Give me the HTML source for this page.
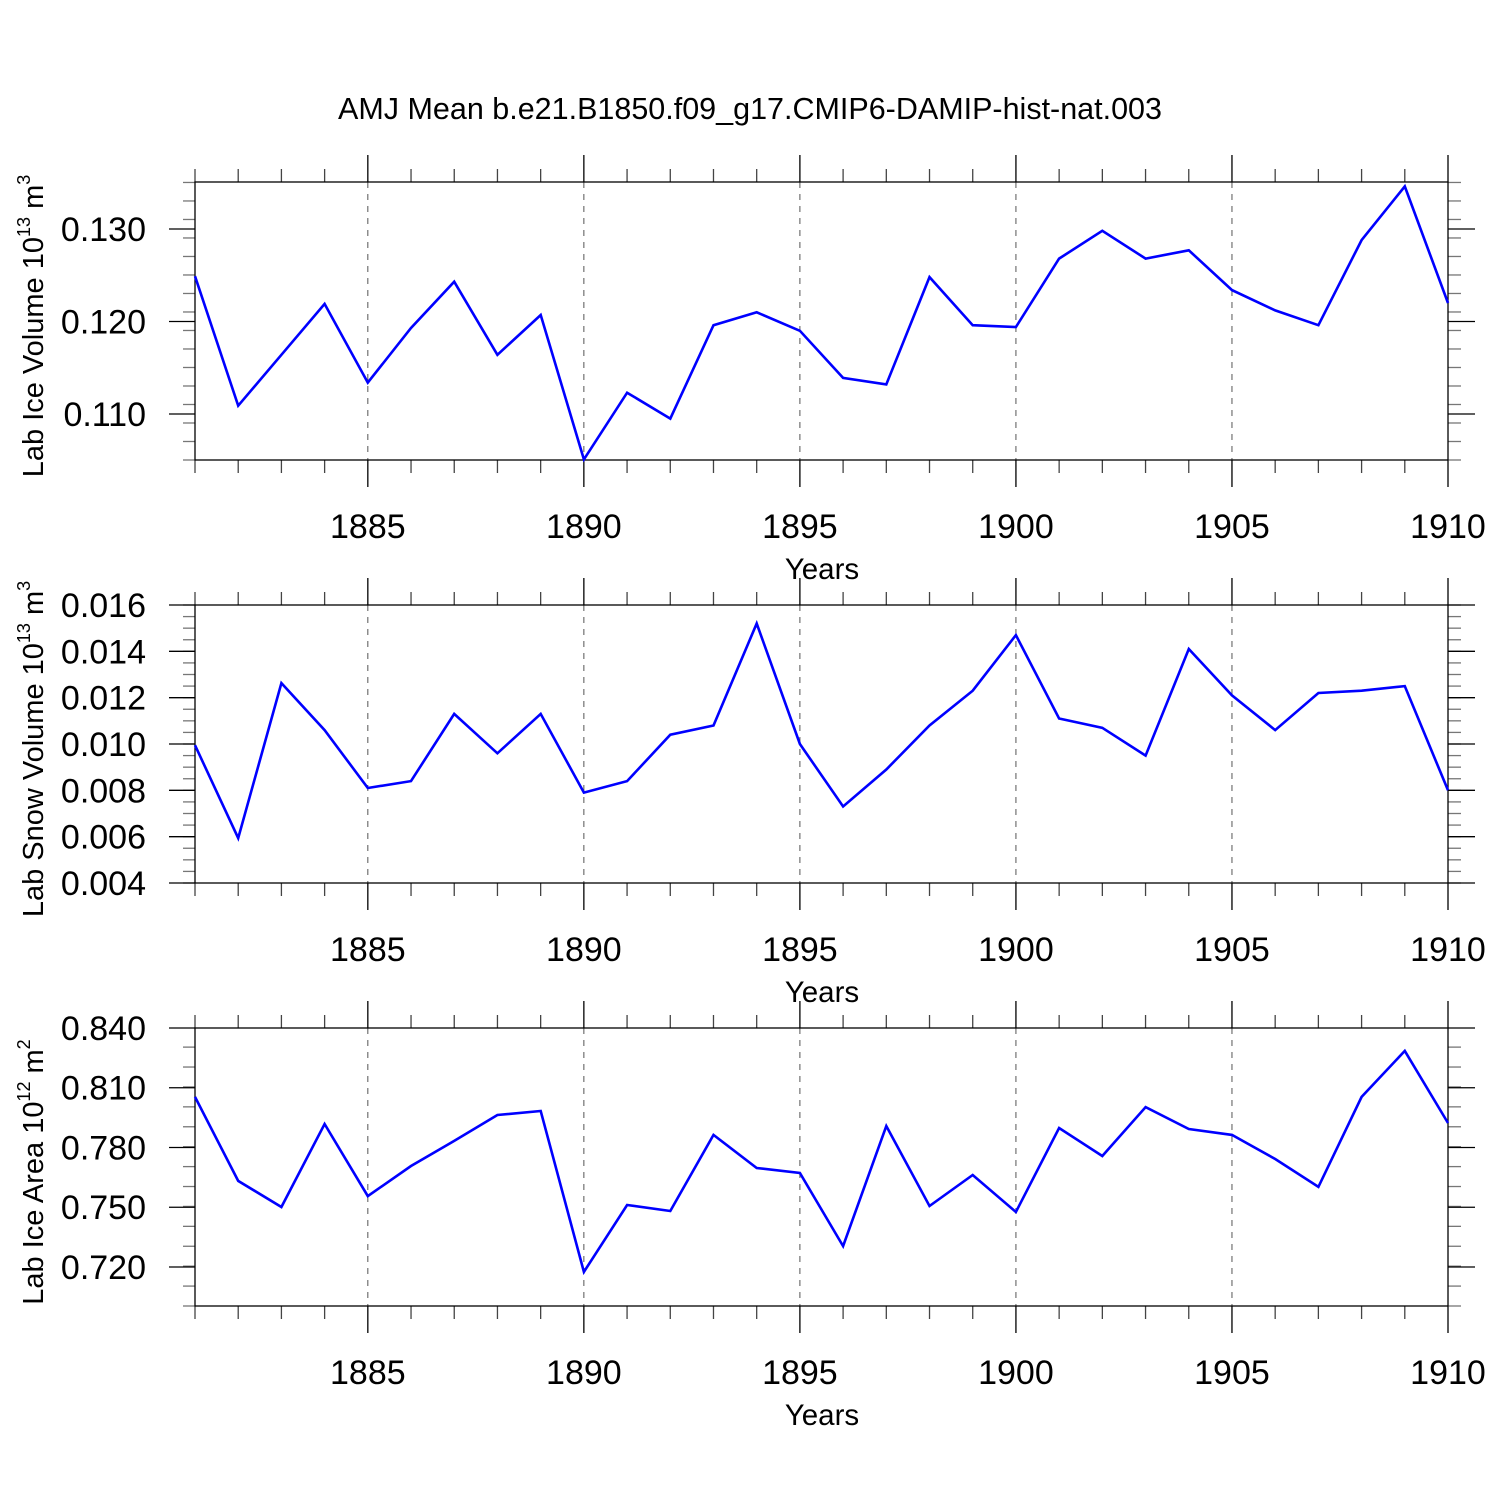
<!DOCTYPE html>
<html><head><meta charset="utf-8"><style>
body{margin:0;background:#fff}
svg{display:block}
text{font-family:"Liberation Sans",Arial,sans-serif;fill:#000}
</style></head><body>
<svg id="chart" width="1500" height="1500" viewBox="0 0 1500 1500" xmlns="http://www.w3.org/2000/svg">
<rect width="1500" height="1500" fill="#fff"/>
<text x="750" y="119" font-size="30.5" text-anchor="middle">AMJ Mean b.e21.B1850.f09_g17.CMIP6-DAMIP-hist-nat.003</text>
</svg>
<script>
const years = [];
for (let y = 1881; y <= 1910; y++) years.push(y);
const iceVolume = [0.1249,0.1109,0.1164,0.1219,0.1134,0.1193,0.1243,0.1164,0.1207,0.1051,0.1123,0.1095,0.1196,0.1210,0.1190,0.1139,0.1132,0.1248,0.1196,0.1194,0.1268,0.1298,0.1268,0.1277,0.1234,0.1212,0.1196,0.1288,0.1346,0.1220];
const snowVolume = [0.00995,0.00594,0.01263,0.0106,0.0081,0.0084,0.0113,0.0096,0.0113,0.0079,0.0084,0.0104,0.0108,0.0152,0.0100,0.0073,0.0089,0.0108,0.0123,0.0147,0.0111,0.0107,0.0095,0.0141,0.0121,0.0106,0.0122,0.0123,0.0125,0.0080];
const iceArea = [0.8054,0.7632,0.7501,0.7918,0.7556,0.7707,0.7833,0.7963,0.7983,0.7175,0.7511,0.7481,0.7863,0.7697,0.7672,0.7305,0.7908,0.7506,0.7662,0.7476,0.7898,0.7757,0.8003,0.7893,0.7863,0.7742,0.7602,0.8054,0.8285,0.7923];
const xTickLabels = [1885,1890,1895,1900,1905,1910];
const iceVolTicks = ["0.110","0.120","0.130"];
const snowVolTicks = ["0.004","0.006","0.008","0.010","0.012","0.014","0.016"];
const iceAreaTicks = ["0.720","0.750","0.780","0.810","0.840"];

const svg = document.getElementById('chart');
const NS = 'http://www.w3.org/2000/svg';
function mk(tag, attrs, parent){const e=document.createElementNS(NS,tag);for(const k in attrs)e.setAttribute(k,attrs[k]);(parent||svg).appendChild(e);return e;}

const X0=195, X1=1448;
const xMin=1881, xMax=1910;
function xs(v){return X0+(v-xMin)/(xMax-xMin)*(X1-X0);}

function panel(opt){
  const g=mk('g',{});
  
  
  const top=opt.top, bot=opt.top+278;
  const ys=v=>bot-(v-opt.yMin)/(opt.yMax-opt.yMin)*(bot-top);
  xTickLabels.forEach(t=>{
    if(t<xMax){const l=mk('line',{x1:xs(t),x2:xs(t),y1:top,y2:bot,stroke:'#555','stroke-width':1,'stroke-dasharray':'6,6'},g);
    
    }
  });
  for(let y=xMin;y<=xMax;y++){
    const major=y%5===0, len=major?27:13;
    const c=major?'#000':'#444';
    mk('line',{x1:xs(y),x2:xs(y),y1:top,y2:top-len,stroke:c,'stroke-width':1.3},g);
    mk('line',{x1:xs(y),x2:xs(y),y1:bot,y2:bot+len,stroke:c,'stroke-width':1.3},g);
  }
  xTickLabels.forEach(t=>{
    const tx=mk('text',{x:xs(t),y:bot+78,'font-size':34,'text-anchor':'middle'},g);
    tx.textContent=t;
    
    
  });
  const xt=mk('text',{x:822,y:bot+119,'font-size':29.5,'text-anchor':'middle'},g);
  xt.textContent='Years';
  
  
  for(let v=opt.yMin;v<=opt.yMax+1e-9;v+=opt.minor){
    const py=ys(v);
    mk('line',{x1:X0,x2:X0-12,y1:py,y2:py,stroke:'#777','stroke-width':1.3},g);
    mk('line',{x1:X1,x2:X1+13,y1:py,y2:py,stroke:'#777','stroke-width':1.3},g);
  }
  opt.ticks.forEach(t=>{
    const py=ys(parseFloat(t));
    mk('line',{x1:X0,x2:X0-26,y1:py,y2:py,stroke:'#000','stroke-width':1.3},g);
    mk('line',{x1:X1,x2:X1+27,y1:py,y2:py,stroke:'#000','stroke-width':1.3},g);
    const tx=mk('text',{x:146,y:py+12,'font-size':34,'text-anchor':'end'},g);
    tx.textContent=t;
    
    
  });
  const box=mk('rect',{x:X0,y:top,width:X1-X0,height:bot-top,fill:'none',stroke:'#000','stroke-width':1.3},g);
  
  
  const pts=opt.data.map((v,i)=>xs(years[i]).toFixed(1)+','+ys(v).toFixed(1)).join(' ');
  const pl=mk('polyline',{points:pts,fill:'none',stroke:'#0000ff','stroke-width':2.6,'stroke-linejoin':'miter'},g);
  
  
  const yt=mk('text',{transform:`translate(43,${(top+bot)/2+5}) rotate(-90)`,'font-size':29,'text-anchor':'middle'},g);
  yt.innerHTML=opt.label+' 10<tspan font-size="18" dy="-13">'+opt.exp+'</tspan><tspan dy="13"> m</tspan><tspan font-size="18" dy="-13">'+opt.sup+'</tspan>';
  
  
}
panel({name:'ice-volume-panel',top:182,yMin:0.10503,yMax:0.13508,minor:0.002,ticks:iceVolTicks,data:iceVolume,label:'Lab Ice Volume',exp:'13',sup:'3'});
panel({name:'snow-volume-panel',top:605,yMin:0.004,yMax:0.016,minor:0.0005,ticks:snowVolTicks,data:snowVolume,label:'Lab Snow Volume',exp:'13',sup:'3'});
panel({name:'ice-area-panel',top:1028,yMin:0.7004,yMax:0.84,minor:0.01,ticks:iceAreaTicks,data:iceArea,label:'Lab Ice Area',exp:'12',sup:'2'});
</script>
</body></html>
